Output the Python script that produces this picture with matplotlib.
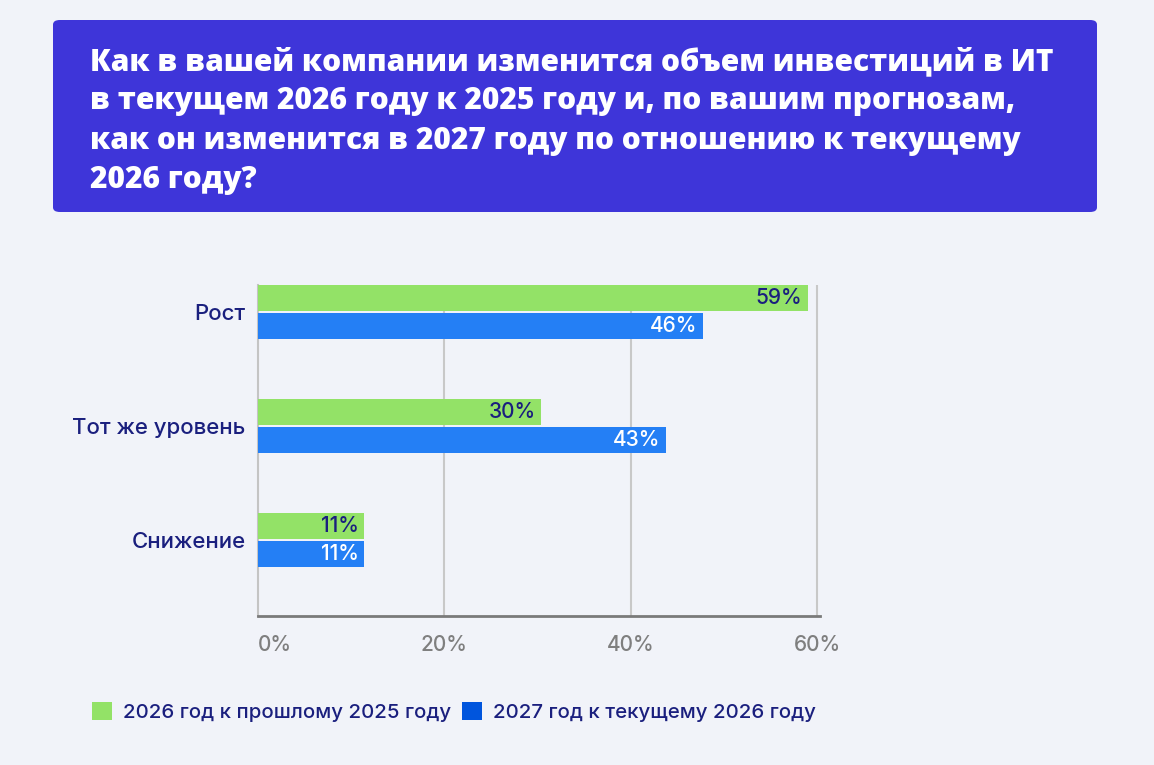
import matplotlib
matplotlib.use('Agg')
import matplotlib.pyplot as plt
from matplotlib.patches import FancyBboxPatch, Patch

# data
categories = ['Рост', 'Тот же уровень', 'Снижение']
series_names = ['2026 год к прошлому 2025 году', '2027 год к текущему 2026 году']
values_2026 = [59.0, 30.4, 11.4]   # bar lengths as drawn
values_2027 = [47.7, 43.8, 11.4]
labels_2026 = ['59%', '30%', '11%']
labels_2027 = ['46%', '43%', '11%']
x_ticks = [0, 20, 40, 60]
x_tick_labels = ['0%', '20%', '40%', '60%']

title = ('Как в вашей компании изменится объем инвестиций в ИТ\n'
         'в текущем 2026 году к 2025 году и, по вашим прогнозам,\n'
         'как он изменится в 2027 году по отношению к текущему\n'
         '2026 году?')

bg = '#F1F3F9'
navy = '#1A1F7E'
green = '#93E267'
blue = '#247FF5'
legend_blue = '#0055DD'
header = '#3E35D9'

plt.rcParams['font.family'] = ['Inter', 'DejaVu Sans']
plt.rcParams['font.weight'] = 'medium'

W, H = 1154, 765
fig = plt.figure(figsize=(W / 100, H / 100), dpi=100, facecolor=bg)

# header box
box = FancyBboxPatch((53 / W, 1 - 212 / H), (1097 - 53) / W, (212 - 20) / H,
                     boxstyle='round,pad=0,rounding_size=0.006',
                     transform=fig.transFigure, facecolor=header, edgecolor='none')
fig.patches.append(box)
fig.text(90 / W, 1 - 47 / H, title, ha='left', va='top', color='white',
         fontsize=21.5, fontweight='heavy', linespacing=1.41,
         family=['Open Sans', 'DejaVu Sans'])

ax = fig.add_axes([258 / W, 1 - 616 / H, 562 / W, (616 - 285) / H])
ax.set_facecolor(bg)

pos = list(range(len(categories)))
h = 0.228
off = 0.12
b1 = ax.barh([p - off for p in pos], values_2026, height=h, color=green, zorder=3)
b2 = ax.barh([p + off for p in pos], values_2027, height=h, color=blue, zorder=3)

for bar, lab in zip(b1, labels_2026):
    ax.annotate(lab, (bar.get_width(), bar.get_y() + bar.get_height() / 2),
                xytext=(-4, 0), textcoords='offset points', ha='right', va='center',
                color=navy, fontsize=15, zorder=4)
for bar, lab in zip(b2, labels_2027):
    ax.annotate(lab, (bar.get_width(), bar.get_y() + bar.get_height() / 2),
                xytext=(-4, 0), textcoords='offset points', ha='right', va='center',
                color='white', fontsize=15, zorder=4)

ax.set_xlim(0, 60.3)
ax.set_ylim(2.667, -0.237)
ax.set_yticks(pos)
ax.set_yticklabels(categories, color=navy, fontsize=16)
ax.set_xticks(x_ticks)
ax.set_xticklabels(x_tick_labels, color='#7F7F7F', fontsize=15)
ax.tick_params(axis='both', length=0)
ax.tick_params(axis='y', pad=9)
ax.tick_params(axis='x', pad=14)
ax.get_xticklabels()[0].set_ha('left')

for x in x_ticks[1:]:
    ax.axvline(x, color='#C8C8C8', linewidth=1.5, zorder=1)
for s in ['top', 'right']:
    ax.spines[s].set_visible(False)
ax.spines['left'].set_color('#C4C4C4')
ax.spines['left'].set_linewidth(1.5)
ax.spines['bottom'].set_color('#7A7A7A')
ax.spines['bottom'].set_linewidth(2)

handles = [Patch(facecolor=green, edgecolor='none'), Patch(facecolor=legend_blue, edgecolor='none')]
fig.legend(handles, series_names, loc='center left', bbox_to_anchor=(74 / W, 1 - 712 / H),
           ncol=2, frameon=False, fontsize=14.7, labelcolor=navy,
           handlelength=0.97, handleheight=0.97, handletextpad=0.55, columnspacing=0.5)

fig.savefig('out.png', dpi=100, facecolor=bg)
